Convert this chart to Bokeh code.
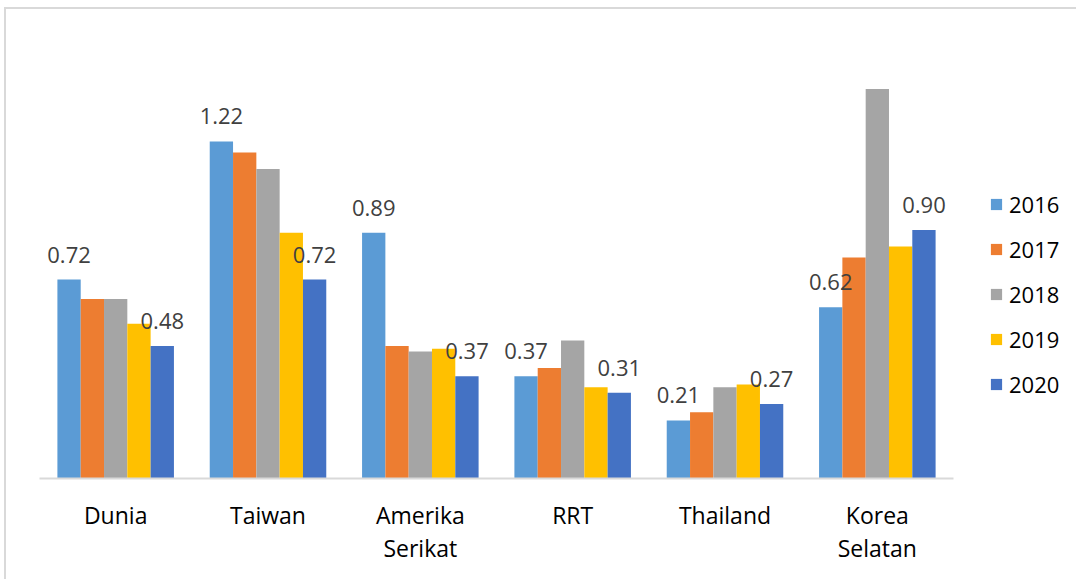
from bokeh.plotting import figure
from bokeh.models import ColumnDataSource, FactorRange, Range1d, Legend, LegendItem, Spacer
from bokeh.transform import dodge
from bokeh.layouts import column, row
from bokeh.core.properties import value
from bokeh.embed import file_html
from bokeh.resources import INLINE

categories = ["Dunia", "Taiwan", "Amerika\nSerikat", "RRT", "Thailand", "Korea\nSelatan"]
years = ["2016", "2017", "2018", "2019", "2020"]
v2016 = [0.72, 1.22, 0.89, 0.37, 0.21, 0.62]
v2017 = [0.65, 1.18, 0.48, 0.40, 0.24, 0.80]
v2018 = [0.65, 1.12, 0.46, 0.50, 0.33, 1.41]
v2019 = [0.56, 0.89, 0.47, 0.33, 0.34, 0.84]
v2020 = [0.48, 0.72, 0.37, 0.31, 0.27, 0.90]
colors = ["#5B9BD5", "#ED7D31", "#A5A5A5", "#FFC000", "#4472C4"]
labelled_years = ["2016", "2020"]

FONT = "Open Sans"
series = dict(zip(years, [v2016, v2017, v2018, v2019, v2020]))
data = {"cat": categories}
for y in years:
    data[y] = series[y]
    data["t" + y] = [f"{v:.2f}" for v in series[y]]
src = ColumnDataSource(data)

p = figure(x_range=FactorRange(*categories), y_range=Range1d(0, 1.6),
           frame_width=912, frame_height=440, output_backend="svg", toolbar_location=None,
           min_border_left=33, min_border_right=127, min_border_top=27, min_border_bottom=105,
           y_axis_location=None)
p.outline_line_color = None
p.xgrid.visible = False
p.ygrid.visible = False
p.styles = {"border-top": "2px solid #d9d9d9", "border-left": "2px solid #d9d9d9"}

bw = 0.153
items = []
for i, y in enumerate(years):
    off = (i - 2) * bw
    r = p.vbar(x=dodge("cat", off, range=p.x_range), top=y, width=bw, source=src,
               fill_color=colors[i], line_color=None)
    items.append(LegendItem(label=y, renderers=[r]))

for i, y in enumerate(years):
    if y in labelled_years:
        off = (i - 2) * bw
        p.text(x=dodge("cat", off, range=p.x_range), y=y, text="t" + y, source=src,
               text_align="center", text_baseline="bottom", y_offset=-17,
               text_font=value(FONT), text_font_size="22px", text_color="#404040")

ax = p.xaxis[0]
ax.axis_line_color = "#d9d9d9"
ax.axis_line_width = 2
ax.major_tick_line_color = None
ax.minor_tick_line_color = None
ax.major_label_text_font = FONT
ax.major_label_text_font_size = "23px"
ax.major_label_text_color = "#000000"
ax.major_label_text_line_height = 1.05
ax.major_label_standoff = 14

legend = Legend(items=items, location="top_left", orientation="vertical",
                title=" ", title_text_font_size="10px", title_standoff=106,
                label_text_font=FONT, label_text_font_size="22px", label_text_color="#000000",
                glyph_width=14, glyph_height=14, label_standoff=6, spacing=15,
                padding=0, margin=36, border_line_color=None, background_fill_alpha=0)
p.add_layout(legend, "right")

layout = column(Spacer(height=7), row(Spacer(width=4), p))
open("out.html", "w").write(file_html(layout, INLINE))
